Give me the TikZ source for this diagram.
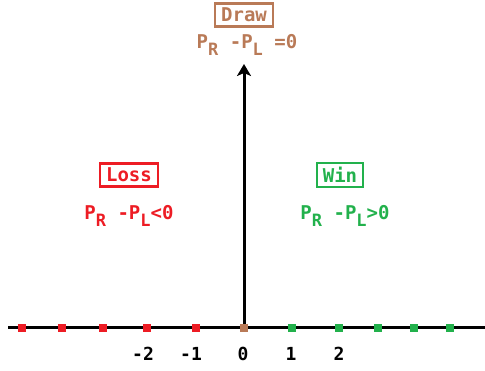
\documentclass[tikz,border=0pt]{standalone}
\usepackage{fontspec}
\usetikzlibrary{arrows.meta}
\setmonofont{DejaVu Sans Mono}
\definecolor{lossred}{RGB}{237,28,36}
\definecolor{wingreen}{RGB}{34,177,76}
\definecolor{drawbrown}{RGB}{185,122,87}
\newcommand{\sbx}[1]{\raisebox{-0.75ex}{\fontsize{17}{17}\selectfont #1}}
\begin{document}
\begin{tikzpicture}[x=1pt,y=-1pt,
  lbl/.style={font=\ttfamily\bfseries\fontsize{19}{22}\selectfont, inner sep=0pt},
  boxed/.style={lbl, draw, line width=2.5pt, inner xsep=6pt, inner ysep=4.5pt},
  tick/.style={fill, minimum size=8pt, inner sep=0pt},
  num/.style={font=\ttfamily\bfseries\fontsize{18}{20}\selectfont, inner sep=0pt}]
\useasboundingbox (0,0) rectangle (485,371);
% axes
\coordinate (L) at (8,328);
\coordinate (R) at (485,328);
\coordinate (O) at (244,328);
\coordinate (T) at (244,64);
\draw[line width=3pt] (L) -- (R);
\draw[line width=3pt,-{Stealth[length=12pt,width=14pt,inset=3pt]}] (O) -- (T);
% ticks
\foreach \x/\n in {22/a,62/b,103/c,147/d,196/e}{
  \node[tick,lossred] (r\n) at (\x,328) {};}
\foreach \x/\n in {292/a,339/b,378/c,414/d,450/e}{
  \node[tick,wingreen] (g\n) at (\x,328) {};}
\node[tick,drawbrown] (z) at (244,328) {};
% numbers
\node[num] (m2) at (143,354) {-2};
\node[num] (m1) at (191,354) {-1};
\node[num] (n0) at (243,354) {0};
\node[num] (n1) at (291,354) {1};
\node[num] (n2) at (339,354) {2};
% labels
\node[boxed,drawbrown] (draw) at (244,15) {Draw};
\node[lbl,drawbrown] (eqd) at (247,45) {P\sbx{R} -P\sbx{L} =0};
\node[boxed,lossred] (loss) at (129,175) {Loss};
\node[lbl,lossred] (eql) at (129,216) {P\sbx{R} -P\sbx{L}<0};
\node[boxed,wingreen] (win) at (340,175) {Win};
\node[lbl,wingreen] (eqw) at (345,216) {P\sbx{R} -P\sbx{L}>0};
\end{tikzpicture}
\end{document}
